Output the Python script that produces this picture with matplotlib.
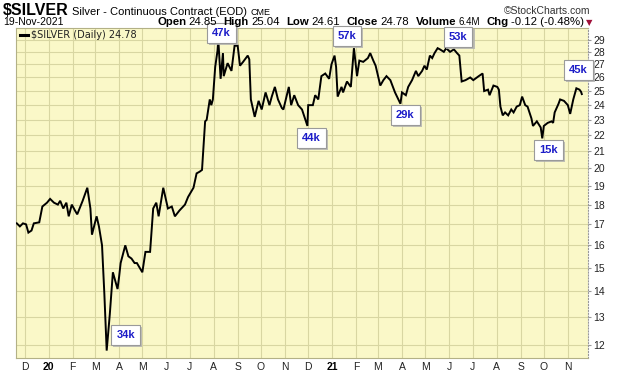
import matplotlib
matplotlib.use("Agg")
import matplotlib.pyplot as plt
import matplotlib.patheffects as pe
import pandas as pd
from matplotlib.ticker import FixedLocator, NullLocator, NullFormatter

# ---------------- data ----------------
dates = [
    "2019-11-21", "2019-11-25", "2019-11-29", "2019-12-03", "2019-12-06", "2019-12-10",
    "2019-12-13", "2019-12-20", "2019-12-24", "2019-12-30", "2020-01-03", "2020-01-08",
    "2020-01-13", "2020-01-16", "2020-01-20", "2020-01-24", "2020-01-27", "2020-01-31",
    "2020-02-04", "2020-02-07", "2020-02-14", "2020-02-20", "2020-02-24", "2020-02-26",
    "2020-03-03", "2020-03-06", "2020-03-10", "2020-03-13", "2020-03-16", "2020-03-20",
    "2020-03-24", "2020-03-30", "2020-04-01", "2020-04-03", "2020-04-09", "2020-04-13",
    "2020-04-17", "2020-04-21", "2020-04-24", "2020-05-01", "2020-05-05", "2020-05-11",
    "2020-05-15", "2020-05-19", "2020-05-22", "2020-05-28", "2020-06-03", "2020-06-08",
    "2020-06-12", "2020-06-18", "2020-06-25", "2020-06-29", "2020-07-06", "2020-07-10",
    "2020-07-14", "2020-07-17", "2020-07-21", "2020-07-23", "2020-07-27", "2020-07-29",
    "2020-07-31", "2020-08-03", "2020-08-06", "2020-08-07", "2020-08-10", "2020-08-13",
    "2020-08-14", "2020-08-19", "2020-08-24", "2020-08-28", "2020-09-01", "2020-09-04",
    "2020-09-08", "2020-09-14", "2020-09-16", "2020-09-18", "2020-09-23", "2020-09-28",
    "2020-10-02", "2020-10-07", "2020-10-12", "2020-10-15", "2020-10-19", "2020-10-23",
    "2020-10-28", "2020-10-30", "2020-11-06", "2020-11-09", "2020-11-13", "2020-11-18",
    "2020-11-23", "2020-11-30", "2020-12-01", "2020-12-07", "2020-12-10", "2020-12-14",
    "2020-12-18", "2020-12-23", "2020-12-28", "2020-12-31", "2021-01-04", "2021-01-06",
    "2021-01-08", "2021-01-13", "2021-01-15", "2021-01-20", "2021-01-25", "2021-01-29",
    "2021-02-02", "2021-02-05", "2021-02-10", "2021-02-16", "2021-02-19", "2021-02-23",
    "2021-02-26", "2021-03-04", "2021-03-08", "2021-03-12", "2021-03-17", "2021-03-23",
    "2021-03-30", "2021-04-01", "2021-04-06", "2021-04-09", "2021-04-14", "2021-04-19",
    "2021-04-22", "2021-04-27", "2021-04-30", "2021-05-03", "2021-05-07", "2021-05-10",
    "2021-05-13", "2021-05-17", "2021-05-20", "2021-05-25", "2021-05-28", "2021-06-02",
    "2021-06-07", "2021-06-11", "2021-06-14", "2021-06-17", "2021-06-22", "2021-06-28",
    "2021-07-02", "2021-07-09", "2021-07-14", "2021-07-16", "2021-07-21", "2021-07-23",
    "2021-07-28", "2021-08-02", "2021-08-04", "2021-08-06", "2021-08-09", "2021-08-12",
    "2021-08-16", "2021-08-20", "2021-08-23", "2021-08-27", "2021-08-31", "2021-09-03",
    "2021-09-07", "2021-09-10", "2021-09-15", "2021-09-17", "2021-09-22", "2021-09-27",
    "2021-09-29", "2021-10-01", "2021-10-06", "2021-10-11", "2021-10-13", "2021-10-15",
    "2021-10-20", "2021-10-22", "2021-10-27", "2021-11-01", "2021-11-04", "2021-11-08",
    "2021-11-12", "2021-11-16", "2021-11-18", "2021-11-19",
]
prices = [
    17.05, 16.90, 17.05, 17.00, 16.60, 16.70,
    17.05, 17.10, 17.90, 18.10, 18.30, 18.10,
    18.00, 18.20, 17.80, 18.10, 17.40, 18.00,
    17.70, 17.50, 18.20, 18.90, 17.80, 16.50,
    17.40, 16.90, 16.00, 13.90, 11.80, 13.10,
    14.80, 14.10, 14.60, 15.20, 16.00, 15.50,
    15.40, 15.20, 15.20, 14.80, 15.70, 15.70,
    17.80, 18.10, 17.40, 18.90, 17.80, 17.90,
    17.40, 17.70, 18.00, 18.40, 18.90, 19.70,
    19.80, 19.90, 22.90, 23.00, 24.40, 24.00,
    24.40, 26.80, 28.10, 29.00, 25.90, 27.90,
    26.10, 27.10, 26.50, 28.50, 28.50, 26.90,
    27.20, 27.70, 27.40, 24.40, 23.20, 24.30,
    23.70, 24.90, 24.00, 24.60, 25.30, 24.40,
    23.80, 23.70, 25.30, 24.00, 24.70, 24.00,
    23.70, 22.60, 24.00, 24.00, 24.70, 24.40,
    26.10, 26.30, 25.90, 27.00, 27.70, 26.80,
    24.60, 25.30, 24.90, 25.70, 25.30, 28.30,
    26.10, 27.30, 27.20, 27.50, 27.90, 27.30,
    26.90, 25.40, 25.80, 26.10, 25.80, 24.90,
    24.10, 24.90, 24.70, 25.30, 25.80, 26.50,
    26.10, 26.50, 26.90, 26.60, 27.70, 27.50,
    27.90, 28.30, 28.20, 28.00, 28.30, 28.00,
    28.20, 27.90, 27.70, 25.70, 25.80, 26.00,
    25.80, 26.10, 26.30, 25.00, 25.10, 24.70,
    25.40, 25.30, 25.10, 23.90, 23.30, 23.50,
    23.30, 23.70, 23.50, 23.90, 24.00, 24.60,
    24.00, 23.90, 23.10, 22.60, 22.90, 22.50,
    21.80, 22.60, 22.80, 22.90, 22.80, 23.50,
    24.10, 24.40, 24.30, 24.00, 23.40, 24.40,
    25.20, 25.10, 24.95, 24.78,
]

vol_labels = ["34k", "47k", "44k", "57k", "29k", "53k", "15k", "45k"]
vol_dates = ["2020-03-16", "2020-08-07", "2020-11-30", "2021-01-29",
             "2021-03-30", "2021-05-28", "2021-09-29", "2021-11-12"]

month_ticks = pd.date_range("2019-12-01", "2021-11-01", freq="MS")
month_labels = ["D", "20", "F", "M", "A", "M", "J", "J", "A", "S", "O", "N",
                "D", "21", "F", "M", "A", "M", "J", "J", "A", "S", "O", "N"]
y_ticks = list(range(12, 30))

# ---------------- figure ----------------
W, H = 620, 376
plt.rcParams["font.family"] = ["Liberation Sans", "DejaVu Sans"]
fig = plt.figure(figsize=(W / 100, H / 100), dpi=100)
fig.patch.set_facecolor("white")

L, R, T, B = 16, 588, 28, 358
ax = fig.add_axes([L / W, 1 - B / H, (R - L) / W, (B - T) / H])
bg = "#faf8c8"
gridc = "#d8d6a2"
ax.set_facecolor(bg)

x = pd.to_datetime(dates)
ax.plot(x, prices, color="black", lw=1.4, zorder=3, solid_joinstyle="miter")

ax.set_yscale("log")
ax.set_ylim(11.55, 30.0)
ax.set_xlim(pd.Timestamp("2019-11-20"), pd.Timestamp("2021-11-27"))

ax.yaxis.set_major_locator(FixedLocator(y_ticks))
ax.yaxis.set_minor_locator(NullLocator())
ax.yaxis.set_minor_formatter(NullFormatter())
ax.set_yticklabels([str(v) for v in y_ticks])
ax.yaxis.tick_right()
ax.tick_params(axis="y", which="major", labelsize=7.5, length=2, pad=2,
               color="#999999", labelcolor="#222222")

ax.set_xticks(month_ticks)
ax.set_xticklabels(month_labels)
ax.tick_params(axis="x", which="major", labelsize=7.5, length=0, pad=3,
               labelcolor="#222222")
for lbl in ax.get_xticklabels():
    if lbl.get_text() in ("20", "21"):
        lbl.set_fontweight("bold")
        lbl.set_color("black")

ax.grid(True, which="major", color=gridc, lw=0.8, zorder=0)
ax.set_axisbelow(True)
for s in ax.spines.values():
    s.set_color("#b3b186")
    s.set_linewidth(0.8)
ax.spines["right"].set_linestyle(":")
ax.spines["right"].set_color("#999999")

# ---------------- volume annotations ----------------
offsets = [(19, 16), (3, 7), (4, -12), (-7, 12), (5, -11), (12, 11), (6, -12), (2, 18)]
price_lookup = dict(zip(dates, prices))
for lab, d, (dx, dy) in zip(vol_labels, vol_dates, offsets):
    t = ax.annotate(lab, xy=(pd.Timestamp(d), price_lookup[d]), xytext=(dx, dy),
                    textcoords="offset pixels", ha="center", va="center",
                    fontsize=8, fontweight="bold", color="#1c1cc8", zorder=6,
                    annotation_clip=False,
                    bbox=dict(boxstyle="square,pad=0.45", fc="white",
                              ec="#9a9a9a", lw=0.8))
    t.get_bbox_patch().set_path_effects(
        [pe.SimplePatchShadow(offset=(1.5, -1.5), shadow_rgbFace="#b0b0b0", alpha=0.8),
         pe.Normal()])

# ---------------- header text ----------------
renderer = fig.canvas.get_renderer()


def seq(xp, yp, pieces):
    for item in pieces:
        if isinstance(item, (int, float)):
            xp += item
            continue
        s, kw = item
        t = fig.text(xp / W, 1 - yp / H, s, ha="left", va="baseline", **kw)
        xp += t.get_window_extent(renderer).width
    return xp


seq(3, 15, [("$SILVER", dict(fontsize=11.5, fontweight="bold")), 3,
            ("Silver - Continuous Contract (EOD)", dict(fontsize=8)), 4,
            ("CME", dict(fontsize=6.5))])
fig.text(590 / W, 1 - 14 / H, "©StockCharts.com", ha="right", va="baseline",
         fontsize=7.5, color="#333333")

fig.text(3 / W, 1 - 25 / H, "19-Nov-2021", ha="left", va="baseline", fontsize=7.5)
b = dict(fontsize=8.2, fontweight="bold")
n = dict(fontsize=8.2)
end = seq(157, 25, [("Open", b), 2.5, ("24.85", n), 6.5,
                    ("High", b), 2.5, ("25.04", n), 6.5,
                    ("Low", b), 2.5, ("24.61", n), 6.5,
                    ("Close", b), 2.5, ("24.78", n), 6.5,
                    ("Volume", b), 2.5, ("6.4M", dict(fontsize=7)), 6.5,
                    ("Chg", b), 2.5, ("-0.12 (-0.48%)", n)])
fig.text((end + 2) / W, 1 - 25 / H, "▼", ha="left", va="baseline", fontsize=6,
         color="#a0103a", family="DejaVu Sans")

# legend inside plot
fig.add_artist(plt.Line2D([20 / W, 28 / W], [1 - 35 / H, 1 - 35 / H], color="black",
                          lw=2.2))
fig.text(31 / W, 1 - 35 / H, "$SILVER (Daily) 24.78", ha="left", va="center",
         fontsize=7, family="DejaVu Sans", color="#222222")

fig.savefig("out.png", dpi=100, facecolor="white")
